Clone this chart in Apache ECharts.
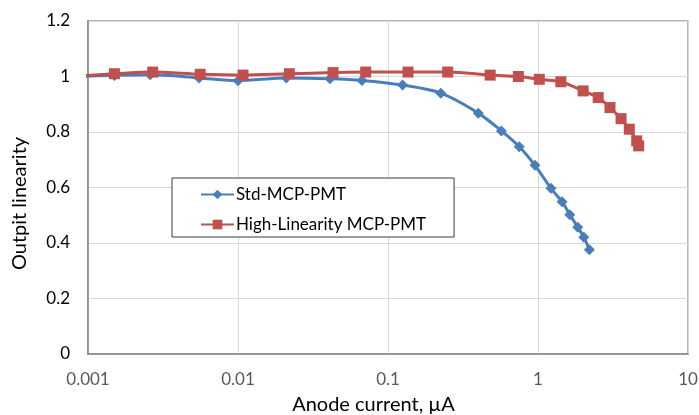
<!DOCTYPE html>
<html>
<head>
<meta charset="utf-8">
<script src="https://cdn.jsdelivr.net/npm/echarts@6/dist/echarts.min.js"></script>
<style>
  html, body { margin: 0; padding: 0; background: #ffffff; }
  #chart { width: 699px; height: 415px; }
</style>
</head>
<body>
<div id="chart"></div>
<script>
// Anode current (µA) and output linearity for each tube type
const stdCurrent   = [0.0008, 0.0015, 0.0026, 0.0055, 0.01, 0.021, 0.041, 0.067, 0.125, 0.225, 0.40, 0.57, 0.75, 0.955, 1.22, 1.445, 1.63, 1.84, 2.02, 2.2];
const stdLinearity = [1.0, 1.004, 1.006, 0.995, 0.985, 0.995, 0.992, 0.986, 0.969, 0.94, 0.868, 0.804, 0.747, 0.68, 0.597, 0.549, 0.502, 0.457, 0.421, 0.376];

const hlCurrent    = [0.0008, 0.0015, 0.0027, 0.0056, 0.0108, 0.022, 0.043, 0.071, 0.136, 0.25, 0.48, 0.74, 1.02, 1.42, 2.0, 2.52, 3.02, 3.58, 4.06, 4.55, 4.69];
const hlLinearity  = [1.0, 1.01, 1.016, 1.008, 1.005, 1.01, 1.014, 1.016, 1.016, 1.016, 1.005, 1.0, 0.99, 0.981, 0.948, 0.924, 0.888, 0.848, 0.81, 0.768, 0.75];

const seriesNames  = ['Std-MCP-PMT', 'High-Linearity MCP-PMT'];
const xTickLabels  = ['0.001', '0.01', '0.1', '1', '10'];
const yTickLabels  = ['0', '0.2', '0.4', '0.6', '0.8', '1', '1.2'];

const FONT = 'Lato';

function pairs(xs, ys) { return xs.map((x, i) => [x, ys[i]]); }

const chart = echarts.init(document.getElementById('chart'), null, { renderer: 'canvas' });

chart.setOption({
  animation: false,
  backgroundColor: '#ffffff',
  textStyle: { fontFamily: FONT },
  grid: {
    left: 88, right: 11, top: 21, bottom: 61,
    containLabel: false, outerBoundsMode: 'none',
    show: true, borderColor: '#a0a0a0', borderWidth: 1.5, backgroundColor: 'transparent'
  },
  legend: {
    orient: 'vertical',
    left: 172, top: 178,
    padding: [8, 28, 4, 28],
    itemGap: 13,
    itemWidth: 33, itemHeight: 12,
    backgroundColor: '#ffffff',
    borderColor: '#3a3a3a', borderWidth: 1, borderRadius: 0,
    textStyle: { fontFamily: FONT, fontSize: 17, color: '#000000', padding: [0, 0, 0, -3] },
    data: seriesNames
  },
  xAxis: {
    type: 'log', logBase: 10, min: 0.001, max: 10,
    name: 'Anode current, \u00b5A',
    nameLocation: 'middle', nameGap: 41,
    nameTextStyle: { fontFamily: FONT, fontSize: 20, color: '#000000', padding: [0, 29, 0, 0] },
    axisLine: { show: true, lineStyle: { color: '#868686', width: 1.5 } },
    axisTick: { show: false },
    axisLabel: {
      fontFamily: FONT, fontSize: 17, color: '#595959', margin: 17,
      formatter: v => {
        const k = Math.round(Math.log10(v)) + 3;
        return xTickLabels[k] !== undefined ? xTickLabels[k] : '';
      }
    },
    splitLine: { show: true, lineStyle: { color: '#d9d9d9', width: 1 } },
    minorSplitLine: { show: false }
  },
  yAxis: {
    type: 'value', min: 0, max: 1.2, interval: 0.2,
    name: 'Outpit linearity',
    nameLocation: 'middle', nameGap: 58,
    nameTextStyle: { fontFamily: FONT, fontSize: 20, color: '#000000', padding: [0, 32, 0, 0] },
    axisLine: { show: true, lineStyle: { color: '#868686', width: 1.5 } },
    axisTick: { show: false },
    axisLabel: {
      fontFamily: FONT, fontSize: 17, color: '#000000', margin: 18,
      formatter: v => yTickLabels[Math.round(v / 0.2)]
    },
    splitLine: { show: true, lineStyle: { color: '#d9d9d9', width: 1 } }
  },
  series: [
    {
      name: seriesNames[0],
      type: 'line',
      data: pairs(stdCurrent, stdLinearity),
      smooth: 0.3,
      clip: true,
      symbol: 'diamond', symbolSize: 11,
      lineStyle: { color: '#4a7ebb', width: 3 },
      itemStyle: { color: '#4a7ebb' },
      z: 2
    },
    {
      name: seriesNames[1],
      type: 'line',
      data: pairs(hlCurrent, hlLinearity),
      smooth: 0.3,
      clip: true,
      symbol: 'rect', symbolSize: 11,
      lineStyle: { color: '#c0504d', width: 3 },
      itemStyle: { color: '#c0504d' },
      z: 3
    }
  ]
});
</script>
</body>
</html>
